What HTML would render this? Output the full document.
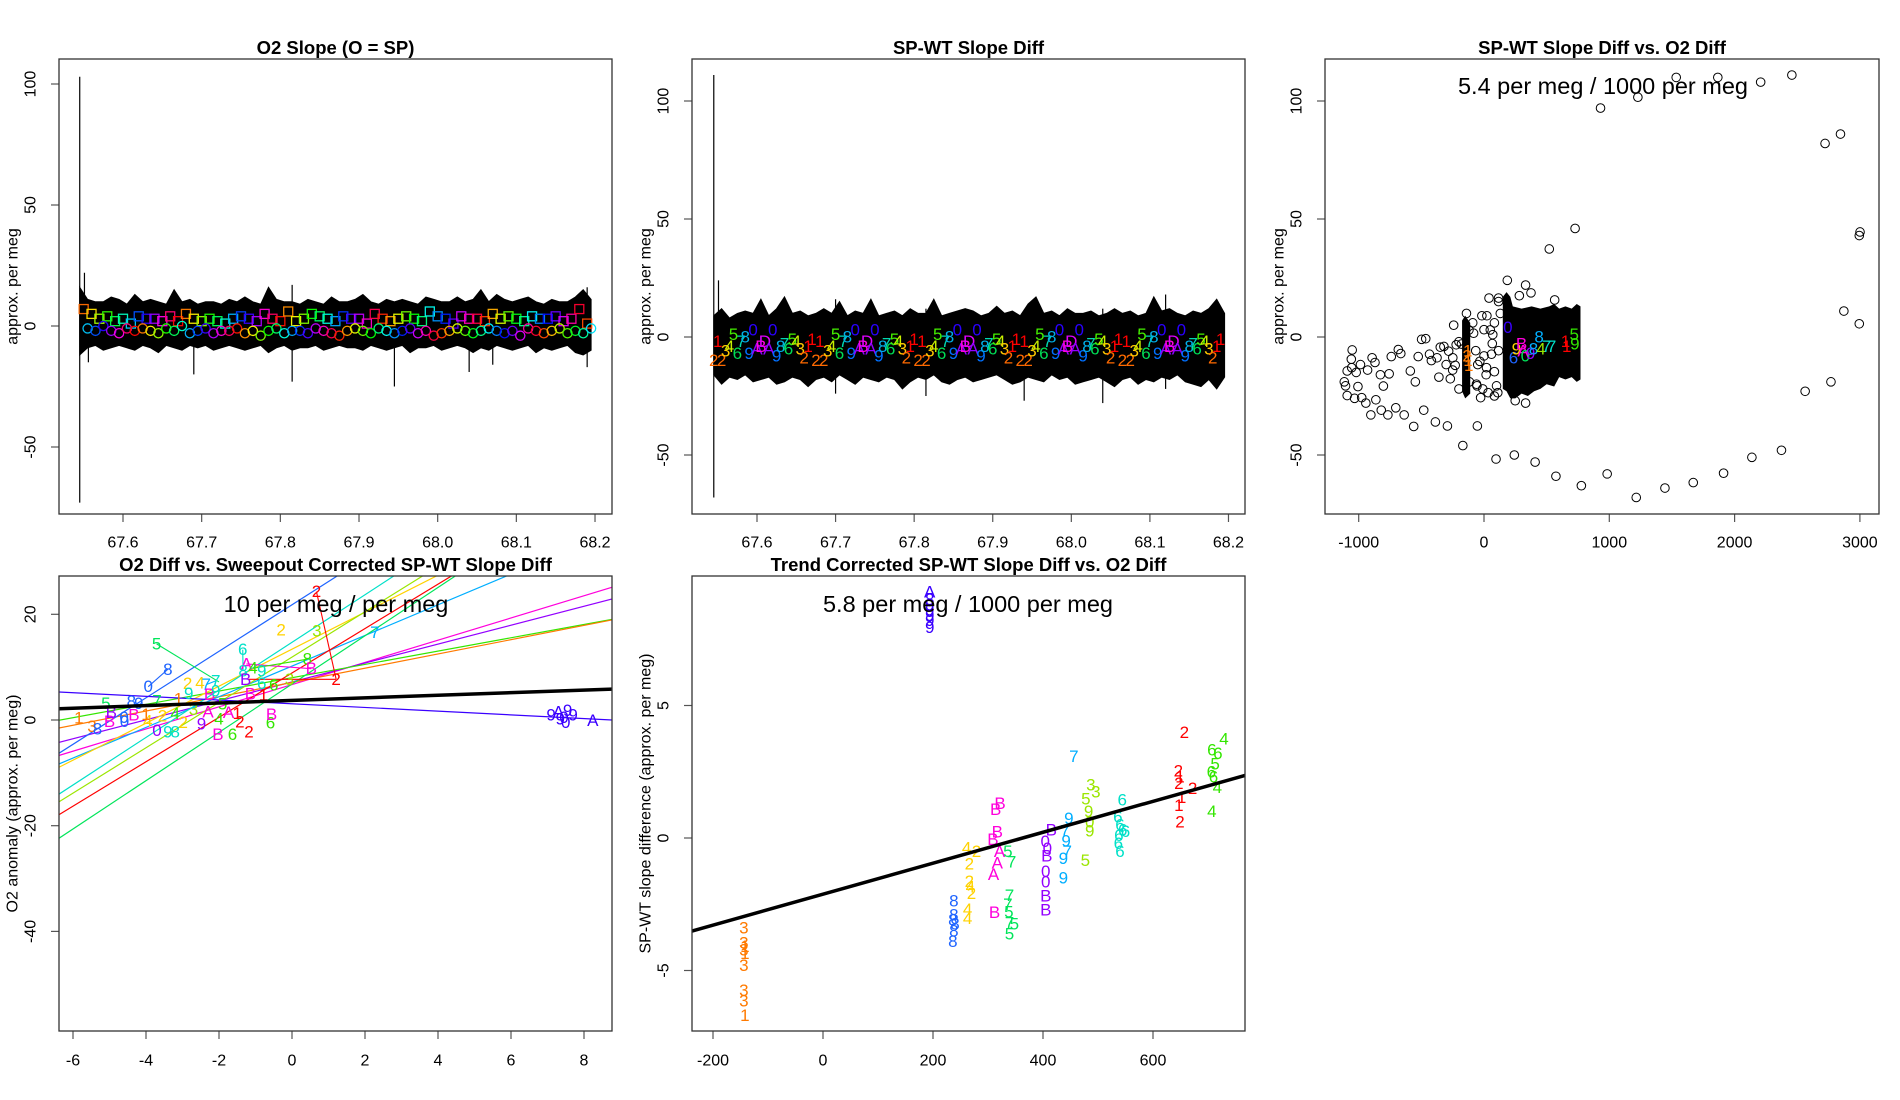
<!DOCTYPE html>
<html><head><meta charset="utf-8"><title>O2 slope panels</title>
<style>
html,body{margin:0;padding:0;background:#fff;}
svg{display:block;font-family:"Liberation Sans",Arial,sans-serif;}
</style></head>
<body>
<svg id="fig" xmlns="http://www.w3.org/2000/svg" width="1900" height="1100" viewBox="0 0 1900 1100">
<defs>
<clipPath id="c1"><rect x="59" y="59" width="553" height="455"/></clipPath>
<clipPath id="c2"><rect x="692" y="59" width="553" height="455"/></clipPath>
<clipPath id="c3"><rect x="1325" y="59" width="554" height="455"/></clipPath>
<clipPath id="c4"><rect x="59" y="576" width="553" height="455"/></clipPath>
<clipPath id="c5"><rect x="692" y="576" width="553" height="455"/></clipPath>
</defs>
</svg>
<script>
// ---------- DATA ----------
const bandStart = 67.545, bandStep = 0.01;
const p1Upper = [16,11,10,10,12,11,9,13,10,11,10, 9,15,10,11,9,10,10,9,11,10,12, 10,9,16,11,10,10,9,11,10,9,12, 10,10,11,13,10,9,11,10,11,10,9, 12,11,10,10,12,10,11,15,10,13,11, 10,11,12,10,9,11,10,10,12,15,11];
const p1Lower = [-12,-9,-8,-10,-9,-8,-9,-10,-8,-9,-11, -8,-9,-10,-8,-9,-8,-10,-9,-8,-9,-10, -9,-8,-11,-9,-8,-10,-9,-9,-8,-10,-9, -8,-9,-9,-10,-8,-9,-10,-9,-8,-11,-9, -9,-8,-10,-9,-8,-9,-11,-9,-10,-8,-9, -10,-9,-8,-11,-9,-10,-9,-8,-11,-12,-10];
const p1SpikeX = [67.545, 67.551, 67.556, 67.69, 67.815, 67.945, 68.04, 68.07, 68.19];
const p1SpikeHi = [103, 22, 10, 8, 17, 10, 9, 8, 16];
const p1SpikeLo = [-73, -8, -15, -20, -23, -25, -19, -16, -17];
const mkStart = 67.55, mkStep = 0.01;
const p1Squares = [7,5,3,4,2,3,1,4,3,3,2,4,2,5,3,2,3,2,1,3,4,3,2,5,3,2,6,2,3,5,4,3,2,4,3,3,1,5,3,2,3,4,3,2,6,4,3,1,4,3,3,2,5,3,4,3,2,4,3,3,4,2,3,7,1];
const p1Circles = [-1,-2,0,-2,-3,-1,-2,-1,-2,-3,-1,-2,0,-3,-2,-1,-3,-2,-2,-1,-3,-2,-4,-2,-1,-3,-2,-2,-3,-1,-2,-3,-4,-2,-1,-2,-3,-1,-2,-3,-2,-1,-3,-2,-4,-3,-2,-1,-2,-3,-2,-1,-2,-3,-2,-4,-1,-2,-3,-2,-1,-3,-2,-3,-1];
const p1XTicks = [67.6,67.7,67.8,67.9,68.0,68.1,68.2];
const p1XLabels = ["67.6","67.7","67.8","67.9","68.0","68.1","68.2"];
const p1YTicks = [-50,0,50,100];

const p2Upper = [9,12,8,10,11,10,16,9,12,17,10, 11,9,10,12,10,15,9,11,10,16,9, 10,11,9,12,10,10,16,9,10,11,12, 11,9,10,13,10,11,9,14,17,10,11, 9,12,10,10,11,9,10,12,10,11,9, 10,17,11,12,10,9,11,10,12,16,10];
const p2Lower = [-16,-20,-17,-18,-16,-19,-18,-17,-20,-19,-17, -18,-21,-18,-17,-19,-16,-18,-20,-17,-18,-19, -17,-18,-22,-19,-17,-18,-16,-19,-20,-18,-17, -19,-18,-17,-16,-18,-20,-19,-17,-18,-19,-16, -18,-17,-20,-19,-18,-17,-19,-21,-18,-17,-20, -18,-19,-17,-18,-16,-19,-20,-21,-18,-22,-17];
const p2SpikeX = [67.545, 67.551, 67.70, 67.815, 67.94, 68.04, 68.12];
const p2SpikeHi = [111, 24, 16, 12, 10, 12, 18];
const p2SpikeLo = [-68, -18, -24, -25, -27, -28, -22];
const p2CycleStarts = [67.545, 67.675, 67.805, 67.935, 68.065];
const p2CycleStep = 0.005;
const p2Labels = ["2","1","2","3","4","5","6","7","8","9","0","A","B","D","A","0","9","8","7","6","5","4","3","2","1","1"];
const p2LabelY = [-10,-2,-10,-6,-4,1,-7,-2,0,-7,3,-5,-4,-2,-5,3,-8,-4,-3,-5,-1,-2,-5,-9,-4,-1];
const p2XTicks = p1XTicks, p2XLabels = p1XLabels;
const p2YTicks = [-50,0,50,100];

const p3X = [930,1228,1534,1866,2208,2457,2722,2845,2995,3001,2872,2995,2563,2769,2374,2138,1912,1670,1444,1215,983,777,574,408,242,96,-169,-53,-292,-388,-561,-481,-637,-704,-767,-820,-903,-943,-863,-976,-1033,-1092,-1105,-1115,-1006,-1092,-1056,-1020,-986,-1052,-1059,-929,-893,-870,-827,-803,-757,-740,-664,-684,-588,-548,-525,-498,-465,-435,-375,-349,-302,-269,-249,-242,-222,-282,-116,-66,-27,0,40,33,66,83,116,110,-17,-50,60,100,17,-83,-33,23,83,116,0,50,-56,83,186,332,375,282,564,521,727,249,332,116,-200,-230,-90,-10,130,-120,-320,-420,-250,-180,-60,20,70,-140,-360,-200];
const p3Y = [97,101.6,110,110,108,111,82,86,43,44.5,11,5.6,-23,-19,-48,-51,-57.7,-61.7,-64,-68,-58,-63,-59,-53,-50,-51.7,-46,-37.7,-37.7,-36,-37.9,-31,-33,-30,-33,-31,-33,-28,-26.6,-25.7,-26,-24.8,-20.7,-19,-21,-14.4,-13,-15,-11.7,-5.5,-9.4,-14,-8.8,-10.8,-16,-20.8,-15.6,-8.3,-7,-5.3,-14.4,-19,-8.3,-1,-0.7,-7.3,-8.8,-4.3,-11.7,-17.7,-8.8,5,-3.3,-6,-19,-5.8,-25.7,3.1,16.5,-23.6,-2.8,-14.7,15,-23.6,9,-11.7,-7.3,-20.7,-16,1.6,-10.3,9,6,-5.8,-8,3,-20.7,-25,24,22,18.7,17.5,15.7,37.3,46,-27,-28,16.5,-2,-12,6,-22,10,3,-4,-10,-14,-3,-20,-13,1,10,-17,-22];
const p3BlobAX = [-175,-150,-110,-110,-150,-175];
const p3BlobAY = [7,9,6,-24,-26,-23];
const p3BlobBX = [150,180,210,230,300,380,450,520,560,600,650,700,740,770,770,740,700,650,600,560,500,450,400,350,300,250,210,180,150];
const p3BlobBY = [17,19,17,13,12,13,12,13,14,12,13,12,14,13,-18,-19,-17,-18,-17,-21,-20,-22,-23,-25,-24,-26,-26,-23,-22];
const p3LabX = [-135,-128,-122,-130,190,235,258,300,312,330,372,395,440,455,500,540,650,660,720,725];
const p3LabY = [-8,-10,-12,-6,4,-9,-5,-3,-6,-8,-7,-5,0,-5,-4,-4,-2,-4,1,-3];
const p3LabT = ["2","1","1","1","0","6","9","B","A","0","9","8","8","4","7","7","1","1","5","9"];
const p3LabG = [0,0,0,0,1,2,3,4,4,5,6,7,7,8,9,9,10,10,11,11];
const p3XTicks = [-1000,0,1000,2000,3000];
const p3YTicks = [-50,0,50,100];

const p4Slopes = [2.1,1.79,1.26,1.35,4.4,2.9,3.5,4.5,4.29,4.2,4.57,-0.35];
const p4Intercepts = [6.7,7.2,8.0,7.1,21.8,10.2,13.4,14.7,11.9,8.9,6.8,3.07];
const p4LineG = [4,6,11,0,2,7,3,9,8,10,5,1];
const p4BoldSlope = [0.245], p4BoldIntercept = [3.7];
const p4LabX = [0.67,1.21,-0.3,0.68,2.27,-3.71,-1.35,-1.25,-1.34,-0.83,-1.07,0.42,0.53,-3.4,-3.94,-2.86,-2.52,-2.09,-2.35,-1.27,-0.07,-0.5,-0.83,-0.78,-1.14,-3.11,-2.83,-5.1,-4.4,-4.2,-3.7,-2.26,-2.09,-5.84,-5.48,-5.33,-5.0,-4.59,-4.33,-3.7,-3.4,-3.2,-3.95,-2.98,-2.03,-1.63,-1.18,-0.59,-0.56,-1.43,-1.74,-2.48,-3.2,-4.0,-3.55,-2.7,-2.3,-1.9,-4.95,-4.6,7.1,7.3,7.45,7.55,7.7,7.5,7.35,8.24,-1.5,-2.0];
const p4LabY = [24.3,7.7,17.0,16.8,16.6,14.4,13.3,10.6,9.3,9.3,9.8,11.5,9.7,9.6,6.3,6.9,7.0,7.4,6.7,7.7,7.7,6.6,6.9,4.7,4.9,4.0,5.0,3.1,3.5,3.1,3.6,4.8,5.5,0.4,-1.2,-1.7,-0.3,-0.3,0.9,-2.0,-2.3,-2.3,-0.2,-0.5,-2.7,-2.7,-2.3,-0.6,1.0,-0.4,1.4,-0.8,1.2,1.0,0.8,2.0,1.5,3.0,1.4,0.5,0.9,1.5,0.5,1.8,0.9,-0.5,0.2,-0.1,1.2,0.2];
const p4LabT = ["2","2","2","3","7","5","6","A","8","9","4","8","B","8","0","2","4","7","7","B","3","6","6","1","B","1","9","5","8","9","7","B","9","1","3","8","B","0","B","0","9","8","4","2","B","6","2","6","B","2","A","9","4","1","2","3","A","5","B","0","9","A","0","9","9","0","9","A","1","4"];
const p4LabG = [10,10,3,8,7,5,9,4,9,9,11,11,4,2,2,3,3,9,7,6,8,11,9,10,4,0,9,5,2,2,5,4,9,0,0,2,4,2,4,6,9,9,3,3,4,11,10,11,4,10,4,6,11,0,3,8,4,11,6,2,1,1,1,1,1,1,1,1,10,11];
const p4SegX1 = [0.67,-3.71,-1.35,-1.25,-1.2,-3.4,-2.35,-1.07];
const p4SegY1 = [24.3,14.4,13.3,10.6,7.7,9.6,6.7,9.8];
const p4SegX2 = [1.21,-2.0,-1.34,0.53,1.21,-3.94,-2.09,0.42];
const p4SegY2 = [7.7,7.2,9.3,9.7,7.7,6.3,7.4,11.5];
const p4SegG = [10,5,9,4,10,2,7,11];
const p4XTicks = [-6,-4,-2,0,2,4,6,8];
const p4YTicks = [-40,-20,0,20];

const p5X = [-144,-144,-142,-144,-142,-144,-144,-144,-142, 194,194,194,194,194,194,194, 238,238,236,240,238,236, 261,279,266,266,268,270,263,263, 314,322,317,309,312,321,317,310, 336,343,339,336,338,339,348,339, 415,404,408,407,405,405,405,405, 456,447,440,442,444,437,437, 487,496,478,483,485,485,477, 544,536,540,545,538,550,537,540, 657,646,649,647,672,652,647,649, 729,707,718,713,706,710,717,707];
const p5Y = [-3.4,-3.96,-4.1,-4.23,-4.36,-4.82,-5.75,-6.15,-6.7, 9.28,9.0,8.8,8.6,8.4,8.2,7.95, -2.37,-2.9,-3.1,-3.25,-3.5,-3.9, -0.38,-0.51,-0.98,-1.65,-1.85,-2.1,-2.7,-3.03, 1.07,1.31,0.23,-0.06,-2.82,-0.5,-0.94,-1.37, -0.5,-0.9,-2.17,-2.5,-2.8,-3.2,-3.25,-3.63, 0.3,-0.13,-0.4,-0.67,-1.27,-1.66,-2.19,-2.72, 3.08,0.74,0.27,-0.12,-0.5,-0.78,-1.51, 2.0,1.74,1.47,1.0,0.6,0.27,-0.85, 1.44,0.8,0.5,0.3,0.1,0.25,-0.2,-0.5, 3.98,2.52,2.3,2.06,1.86,1.53,1.23,0.6, 3.74,3.32,3.19,2.8,2.5,2.3,1.9,1.0];
const p5T = ["3","3","1","3","1","3","3","3","1", "A","8","9","9","9","9","9", "8","8","8","8","8","8", "4","2","2","2","4","2","4","4", "B","B","B","B","B","A","A","A", "5","7","7","7","5","7","5","5", "B","0","0","B","0","0","B","B", "7","9","7","9","7","9","9", "3","3","5","9","0","9","5", "6","6","6","6","6","6","6","6", "2","2","1","2","2","1","1","2", "4","6","6","5","6","6","4","4"];
const p5G = [0,0,0,0,0,0,0,0,0, 1,1,1,1,1,1,1, 2,2,2,2,2,2, 3,3,3,3,3,3,3,3, 4,4,4,4,4,4,4,4, 5,5,5,5,5,5,5,5, 6,6,6,6,6,6,6,6, 7,7,7,7,7,7,7, 8,8,8,8,8,8,8, 9,9,9,9,9,9,9,9, 10,10,10,10,10,10,10,10, 11,11,11,11,11,11,11,11];
const p5Slope = [0.00584], p5Intercept = [-2.12];
const p5XTicks = [-200,0,200,400,600];
const p5YTicks = [-5,0,5];

// ---------- STYLE ----------
const groupColors = ['#FF7A00','#3A00FF','#1E64FF','#FFD200','#FF00DC','#00E55A','#9300FF','#00AEFF','#9BE600','#00E0C8','#FF0000','#33E600'];
const charColors = {'1':'#FF0000','2':'#FF6A00','3':'#FFC800','4':'#C8F000','5':'#44EE00','6':'#00DD55','7':'#00D8B0','8':'#00B0E8','9':'#0070FF','0':'#2A00FF','A':'#9000FF','B':'#FF00E0','D':'#E000FF'};
const NS = 'http://www.w3.org/2000/svg';
const svg = document.getElementById('fig');
function mk(tag, attrs, parent) {
  const e = document.createElementNS(NS, tag);
  for (const k in attrs) e.setAttribute(k, attrs[k]);
  (parent || svg).appendChild(e);
  return e;
}
function hueColor(i) { return 'hsl(' + ((i * 28 + 25) % 360) + ',100%,48%)'; }

const panels = [
  {id:1, x0:59, x1:612, y0:59, y1:514, xs:v=>123+(v-67.6)*786.7, ys:v=>326-v*2.42, title:'O2 Slope (O = SP)', ylab:'approx. per meg', ylx:13, tlx:31, xly:543},
  {id:2, x0:692, x1:1245, y0:59, y1:514, xs:v=>757+(v-67.6)*785.8, ys:v=>337-v*2.36, title:'SP-WT Slope Diff', ylab:'approx. per meg', ylx:646, tlx:664, xly:543},
  {id:3, x0:1325, x1:1879, y0:59, y1:514, xs:v=>1484+v*0.1253, ys:v=>337-v*2.36, title:'SP-WT Slope Diff vs. O2 Diff', ylab:'approx. per meg', ylx:1279, tlx:1297, xly:543},
  {id:4, x0:59, x1:612, y0:576, y1:1031, xs:v=>292+v*36.5, ys:v=>720-v*5.285, title:'O2 Diff vs. Sweepout Corrected SP-WT Slope Diff', ylab:'O2 anomaly (approx. per meg)', ylx:13, tlx:31, xly:1061},
  {id:5, x0:692, x1:1245, y0:576, y1:1031, xs:v=>823+v*0.55, ys:v=>838-v*26.5, title:'Trend Corrected SP-WT Slope Diff vs. O2 Diff', ylab:'SP-WT slope difference (approx. per meg)', ylx:646, tlx:664, xly:1061}
];
const xTicks = {1:[p1XTicks,p1XLabels],2:[p2XTicks,p2XLabels],3:[p3XTicks,p3XTicks.map(String)],4:[p4XTicks,p4XTicks.map(String)],5:[p5XTicks,p5XTicks.map(String)]};
const yTicks = {1:p1YTicks,2:p2YTicks,3:p3YTicks,4:p4YTicks,5:p5YTicks};

const groups = {};
panels.forEach(p => {
  const g = mk('g', {});
  
  
  groups[p.id] = g;
  const t = mk('text', {x:(p.x0+p.x1)/2, y:p.y0-5, 'text-anchor':'middle', 'font-size':18.5, 'font-weight':'bold', fill:'#000'}, g);
  t.textContent = p.title;
  
  
  const yl = mk('text', {x:p.ylx, y:(p.y0+p.y1)/2, 'text-anchor':'middle', 'dominant-baseline':'central', 'font-size':16, transform:'rotate(-90 '+p.ylx+' '+((p.y0+p.y1)/2)+')'}, g);
  yl.textContent = p.ylab;
  
  
  const xa = mk('g', {}, g);
  
  
  const [xt, xlbl] = xTicks[p.id];
  xt.forEach((v, i) => {
    const X = p.xs(v);
    mk('line', {x1:X, x2:X, y1:p.y1, y2:p.y1+8, stroke:'#555', 'stroke-width':1.2}, xa);
    const tl = mk('text', {x:X, y:p.xly, 'text-anchor':'middle', 'dominant-baseline':'central', 'font-size':16}, xa);
    tl.textContent = xlbl[i];
    
    
  });
  const ya = mk('g', {}, g);
  
  
  yTicks[p.id].forEach(v => {
    const Y = p.ys(v);
    mk('line', {x1:p.x0-8, x2:p.x0, y1:Y, y2:Y, stroke:'#555', 'stroke-width':1.2}, ya);
    const tl = mk('text', {x:p.tlx, y:Y, 'text-anchor':'middle', 'dominant-baseline':'central', 'font-size':16, transform:'rotate(-90 '+p.tlx+' '+Y+')'}, ya);
    tl.textContent = String(v);
    
    
  });
  p.plot = mk('g', {'clip-path':'url(#c'+p.id+')'}, g);
  
  
});
function frame(p) {
  const r = mk('rect', {x:p.x0, y:p.y0, width:p.x1-p.x0, height:p.y1-p.y0, fill:'none', stroke:'#333', 'stroke-width':1.3}, groups[p.id]);
  
  
}
function label(parent, x, y, txt, col, size) {
  const t = mk('text', {x:x, y:y, 'text-anchor':'middle', 'dominant-baseline':'central', 'font-size':size || 14, fill:col}, parent);
  t.textContent = txt;
  
  
  return t;
}
function band(p, up, lo, name) {
  let pts = [];
  up.forEach((v, i) => pts.push(p.xs(bandStart + i*bandStep).toFixed(1) + ',' + p.ys(v).toFixed(1)));
  for (let i = lo.length - 1; i >= 0; i--) pts.push(p.xs(bandStart + i*bandStep).toFixed(1) + ',' + p.ys(lo[i]).toFixed(1));
  const b = mk('polygon', {points:pts.join(' '), fill:'#000', stroke:'#000', 'stroke-width':1}, p.plot);
  
  
}
function spikes(p, xs, hi, lo) {
  xs.forEach((x, i) => {
    const s = mk('line', {x1:p.xs(x), x2:p.xs(x), y1:p.ys(hi[i]), y2:p.ys(lo[i]), stroke:'#000', 'stroke-width':1.2}, p.plot);
    
    
  });
}

// ----- Panel 1 -----
{
  const p = panels[0];
  band(p, p1Upper, p1Lower, 'o2-slope-band');
  spikes(p, p1SpikeX, p1SpikeHi, p1SpikeLo);
  p1Squares.forEach((v, i) => {
    const X = p.xs(mkStart + i*mkStep), Y = p.ys(v);
    const s = mk('rect', {x:X-4.5, y:Y-4.5, width:9, height:9, fill:'none', stroke:hueColor(i), 'stroke-width':1.3}, p.plot);
    
    
  });
  p1Circles.forEach((v, i) => {
    const X = p.xs(mkStart + 0.005 + i*mkStep), Y = p.ys(v);
    const c = mk('circle', {cx:X, cy:Y, r:4.6, fill:'none', stroke:hueColor(i+6), 'stroke-width':1.3}, p.plot);
    
    
  });
  frame(p);
}
// ----- Panel 2 -----
{
  const p = panels[1];
  band(p, p2Upper, p2Lower, 'slope-diff-band');
  spikes(p, p2SpikeX, p2SpikeHi, p2SpikeLo);
  p2CycleStarts.forEach(s => {
    p2Labels.forEach((t, i) => {
      label(p.plot, p.xs(s + i*p2CycleStep), p.ys(p2LabelY[i]), t, charColors[t], 17);
    });
  });
  frame(p);
}
// ----- Panel 3 -----
{
  const p = panels[2];
  const a = mk('polygon', {points:p3BlobAX.map((x,i)=>p.xs(x)+','+p.ys(p3BlobAY[i])).join(' '), fill:'#000'}, p.plot);
  
  
  const b = mk('polygon', {points:p3BlobBX.map((x,i)=>p.xs(x)+','+p.ys(p3BlobBY[i])).join(' '), fill:'#000'}, p.plot);
  
  
  p3X.forEach((x, i) => {
    const c = mk('circle', {cx:p.xs(x), cy:p.ys(p3Y[i]), r:4.3, fill:'none', stroke:'#000', 'stroke-width':1}, p.plot);
    
    
  });
  p3LabX.forEach((x, i) => label(p.plot, p.xs(x), p.ys(p3LabY[i]), p3LabT[i], groupColors[p3LabG[i]], 17));
  const ann = mk('text', {x:1603, y:86, 'text-anchor':'middle', 'dominant-baseline':'central', 'font-size':23.5}, groups[3]);
  ann.textContent = '5.4 per meg / 1000 per meg';
  
  
  frame(p);
}
// ----- Panel 4 -----
{
  const p = panels[3];
  const xa = -7, xb = 9;
  p4Slopes.forEach((m, i) => {
    const l = mk('line', {x1:p.xs(xa), y1:p.ys(p4Intercepts[i]+m*xa), x2:p.xs(xb), y2:p.ys(p4Intercepts[i]+m*xb), stroke:groupColors[p4LineG[i]], 'stroke-width':1.2}, p.plot);
    
    
  });
  p4SegX1.forEach((x, i) => {
    const l = mk('line', {x1:p.xs(x), y1:p.ys(p4SegY1[i]), x2:p.xs(p4SegX2[i]), y2:p.ys(p4SegY2[i]), stroke:groupColors[p4SegG[i]], 'stroke-width':1.1}, p.plot);
    
    
  });
  p4LabX.forEach((x, i) => label(p.plot, p.xs(x), p.ys(p4LabY[i]), p4LabT[i], groupColors[p4LabG[i]], 17));
  const bl = mk('line', {x1:p.xs(xa), y1:p.ys(p4BoldIntercept[0]+p4BoldSlope[0]*xa), x2:p.xs(xb), y2:p.ys(p4BoldIntercept[0]+p4BoldSlope[0]*xb), stroke:'#000', 'stroke-width':3.5}, p.plot);
  
  
  const ann = mk('text', {x:336, y:604, 'text-anchor':'middle', 'dominant-baseline':'central', 'font-size':23.5}, groups[4]);
  ann.textContent = '10 per meg / per meg';
  
  
  frame(p);
}
// ----- Panel 5 -----
{
  const p = panels[4];
  p5X.forEach((x, i) => label(p.plot, p.xs(x), p.ys(p5Y[i]), p5T[i], groupColors[p5G[i]], 17));
  const xa = -260, xb = 800;
  const bl = mk('line', {x1:p.xs(xa), y1:p.ys(p5Intercept[0]+p5Slope[0]*xa), x2:p.xs(xb), y2:p.ys(p5Intercept[0]+p5Slope[0]*xb), stroke:'#000', 'stroke-width':3.5}, p.plot);
  
  
  const ann = mk('text', {x:968, y:604, 'text-anchor':'middle', 'dominant-baseline':'central', 'font-size':23.5}, groups[5]);
  ann.textContent = '5.8 per meg / 1000 per meg';
  
  
  frame(p);
}
</script>
</body></html>
